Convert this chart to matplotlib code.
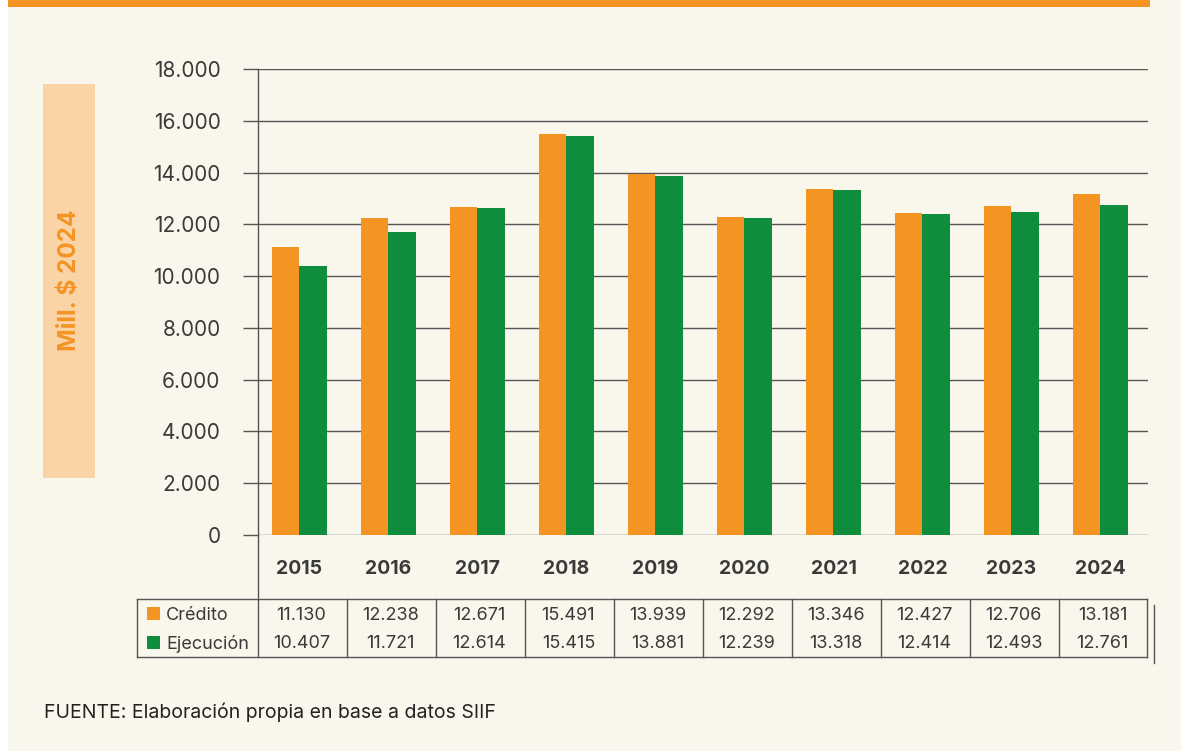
import numpy as np
import matplotlib
matplotlib.use("Agg")
import matplotlib.pyplot as plt
from matplotlib.patches import Rectangle
from matplotlib.lines import Line2D

# Data (millions of 2024 pesos)
years = ["2015", "2016", "2017", "2018", "2019", "2020", "2021", "2022", "2023", "2024"]
credito = [11130, 12238, 12671, 15491, 13939, 12292, 13346, 12427, 12706, 13181]
ejecucion = [10407, 11721, 12614, 15415, 13881, 12239, 13318, 12414, 12493, 12761]
series_names = ["Crédito", "Ejecución"]
y_ticks = [0, 2000, 4000, 6000, 8000, 10000, 12000, 14000, 16000, 18000]

ORANGE = "#F39423"
GREEN = "#0E8E3C"
CREAM = "#F9F6EB"
TEXT = "#3A3A3A"
LINE = "#555555"
FONT = ["Inter", "DejaVu Sans"]

W, H = 1181, 751
fig = plt.figure(figsize=(W / 100, H / 100), dpi=100)
fig.patch.set_facecolor("white")


def fx(px):
    return px / W


def fy(py):
    return 1 - py / H


def frect(x0, y0, x1, y1, **kw):
    fig.add_artist(Rectangle((fx(x0), fy(y1)), fx(x1) - fx(x0), fy(y0) - fy(y1),
                             transform=fig.transFigure, **kw))


def fline(x0, y0, x1, y1, **kw):
    fig.add_artist(Line2D([fx(x0), fx(x1)], [fy(y0), fy(y1)], transform=fig.transFigure, **kw))


def thousands(v):
    return f"{v:,}".replace(",", ".")


# Panel background and top band
frect(8, 0, W, H, facecolor=CREAM, edgecolor="none", zorder=0)
frect(8, 0, 1150, 7, facecolor=ORANGE, edgecolor="none", zorder=1)

# Axes
ax_left, ax_right, ax_top, ax_bottom = 258, 1148, 69, 535
ax = fig.add_axes([fx(ax_left), fy(ax_bottom), fx(ax_right) - fx(ax_left), fy(ax_top) - fy(ax_bottom)])
ax.set_facecolor("none")

x = np.arange(len(years))
bw = 0.31
ax.bar(x - bw / 2, credito, width=bw, color=ORANGE, zorder=3)
ax.bar(x + bw / 2, ejecucion, width=bw, color=GREEN, zorder=3)

ax.set_xlim(-0.466, len(years) - 0.466)
ax.set_ylim(0, 18000)
ax.set_yticks(y_ticks)
ax.set_yticklabels([thousands(v) for v in y_ticks], fontfamily=FONT, fontsize=15, color=TEXT)
ax.tick_params(axis="y", length=11, width=1, color=LINE, pad=16)
ax.set_xticks([])
ax.grid(axis="y", color=LINE, linewidth=1, zorder=1)
for s in ["top", "right", "bottom"]:
    ax.spines[s].set_visible(False)
ax.spines["left"].set_color(LINE)
ax.spines["left"].set_linewidth(1)

# Year labels below the axis
for i, yr in enumerate(years):
    ax.text(i, -1300, yr, ha="center", va="center", fontfamily=FONT, fontsize=14,
            fontweight="bold", color=TEXT, clip_on=False)

# Axis line continues down to the table
fline(ax_left, ax_bottom, ax_left, 599, color=LINE, linewidth=1, zorder=2)

# Y-axis title box
frect(43, 84, 95, 478, facecolor="#FAD4A6", edgecolor="none", zorder=1)
fig.text(fx(69), fy(280), "Mill. $ 2024", rotation=90, ha="center", va="center",
         fontfamily=FONT, fontsize=17.5, fontweight="bold", color=ORANGE, zorder=2)

# Data table
t_left, t_top, t_bottom = 137, 599, 657
col_w = (ax_right - ax_left) / len(years)
t_right = ax_left + col_w * len(years) - 1
fline(t_left, t_top, t_right, t_top, color=LINE, linewidth=1)
fline(t_left, t_bottom, t_right, t_bottom, color=LINE, linewidth=1)
fline(t_left, t_top, t_left, t_bottom, color=LINE, linewidth=1)
for k in range(len(years) + 1):
    xk = ax_left + col_w * k if k < len(years) else t_right
    fline(xk, t_top, xk, t_bottom, color=LINE, linewidth=1)
fline(1154, 605, 1154, 663, color=LINE, linewidth=1)

row_y = [613.5, 642.5]
for r, (name, vals, col) in enumerate(zip(series_names, [credito, ejecucion], [ORANGE, GREEN])):
    frect(147, row_y[r] - 6.5, 160, row_y[r] + 6.5, facecolor=col, edgecolor="none", zorder=2)
    fig.text(fx(166), fy(row_y[r] + 1.5), name, ha="left", va="center", fontfamily=FONT,
             fontsize=13, color=TEXT)
    for i, v in enumerate(vals):
        fig.text(fx(ax_left + col_w * (i + 0.5) - 1), fy(row_y[r] + 1.5), thousands(v),
                 ha="center", va="center", fontfamily=FONT, fontsize=13, color=TEXT)

# Source note
fig.text(fx(44), fy(712), "FUENTE: Elaboración propia en base a datos SIIF", ha="left",
         va="center", fontfamily=FONT, fontsize=14, color="#222222")

fig.savefig("out.png", dpi=100, facecolor=fig.get_facecolor())
